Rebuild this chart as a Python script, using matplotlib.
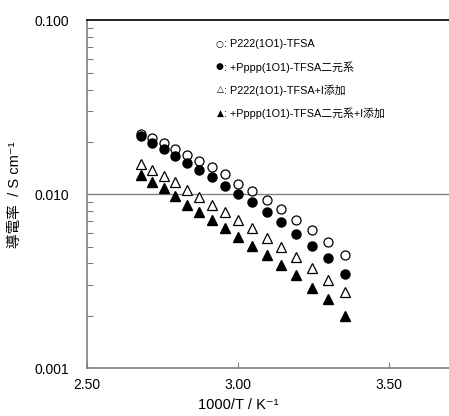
import matplotlib.pyplot as plt
from matplotlib.ticker import FixedLocator, LogLocator, NullFormatter

plt.rcParams['font.family'] = ['Liberation Sans', 'Noto Sans CJK JP', 'DejaVu Sans']

# 1000/T (25-100 °C, 5 °C刻み)
inv_t = [2.680, 2.716, 2.754, 2.792, 2.832, 2.872, 2.914, 2.957,
         3.002, 3.047, 3.095, 3.143, 3.193, 3.245, 3.299, 3.354]

# 導電率 / S cm-1
p222 = [0.0223, 0.0210, 0.0198, 0.0182, 0.0169, 0.0156, 0.0143, 0.0131,
        0.0114, 0.0104, 0.00930, 0.00825, 0.00714, 0.00619, 0.00535, 0.00449]
binary = [0.0215, 0.0197, 0.0182, 0.0166, 0.0152, 0.0138, 0.0126, 0.0112,
          0.0101, 0.00897, 0.00796, 0.00689, 0.00593, 0.00506, 0.00430, 0.00349]
p222_i = [0.0150, 0.0138, 0.0127, 0.0118, 0.0106, 0.00964, 0.00871, 0.00786,
          0.00707, 0.00639, 0.00560, 0.00497, 0.00436, 0.00377, 0.00320, 0.00274]
binary_i = [0.0129, 0.0118, 0.0109, 0.00971, 0.00871, 0.00796, 0.00714, 0.00639,
            0.00568, 0.00506, 0.00449, 0.00394, 0.00345, 0.00289, 0.00250, 0.00200]

legend_marks = ["○", "●", "△", "▲"]
legend_names = [": P222(1O1)-TFSA",
                ": +Pppp(1O1)-TFSA二元系",
                ": P222(1O1)-TFSA+I添加",
                ": +Pppp(1O1)-TFSA二元系+I添加"]

fig = plt.figure(figsize=(4.49, 4.16), dpi=100)
ax = fig.add_axes([0.194, 0.115, 0.806, 0.836])

ax.plot(inv_t, p222, 'o', mfc='white', mec='black', ms=6.5, mew=0.9, zorder=3)
ax.plot(inv_t, binary, 'o', mfc='black', mec='black', ms=6.5, zorder=4)
ax.plot(inv_t, p222_i, '^', mfc='white', mec='black', ms=7, mew=0.9, zorder=3)
ax.plot(inv_t, binary_i, '^', mfc='black', mec='black', ms=7, zorder=4)

ax.set_yscale('log')
ax.set_ylim(0.001, 0.1)
ax.set_xlim(2.5, 3.7)

ax.xaxis.set_major_locator(FixedLocator([2.5, 3.0, 3.5]))
ax.set_xticklabels(["2.50", "3.00", "3.50"])
ax.yaxis.set_major_locator(FixedLocator([0.001, 0.01, 0.1]))
ax.set_yticklabels(["0.001", "0.010", "0.100"])
ax.yaxis.set_minor_locator(LogLocator(base=10, subs=range(2, 10)))
ax.yaxis.set_minor_formatter(NullFormatter())

ax.tick_params(axis='x', direction='in', length=4, width=0.8, color='#808080',
               labelsize=10, pad=7)
ax.tick_params(axis='y', which='major', direction='in', length=0, labelsize=10, pad=13)
ax.tick_params(axis='y', which='minor', direction='in', length=4, width=0.8, color='#808080')

ax.axhline(0.01, color='#808080', lw=1, zorder=1)

for s in ['left', 'bottom']:
    ax.spines[s].set_color('#808080')
    ax.spines[s].set_linewidth(1.2)
ax.spines['top'].set_color('black')
ax.spines['top'].set_linewidth(1.2)
ax.spines['right'].set_visible(False)

ax.set_xlabel("1000/T / K⁻¹", fontsize=10.5)
ax.xaxis.set_label_coords((3.0 - 2.5) / 1.2, -0.085)
ax.set_ylabel("導電率  / S cm⁻¹", fontsize=10.5)
ax.yaxis.set_label_coords(-0.18, 0.5)

for i, (mark, name) in enumerate(zip(legend_marks, legend_names)):
    y = 0.932 - i * 0.066
    ax.text(0.367, y, mark, transform=ax.transAxes, family='DejaVu Sans',
            fontsize=6.5, va='center', ha='center')
    ax.text(0.378, y, name, transform=ax.transAxes,
            fontsize=7.8, va='center', ha='left')

fig.savefig("out.png", dpi=100)
